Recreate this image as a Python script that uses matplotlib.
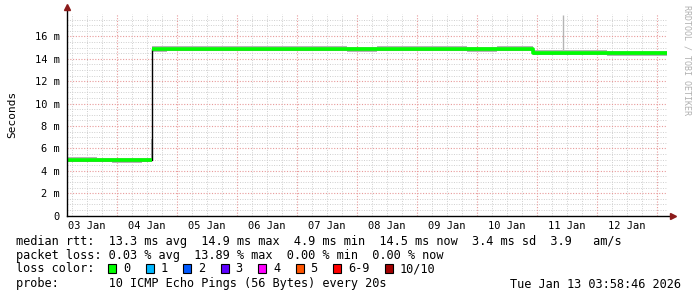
import matplotlib
matplotlib.use("Agg")
import matplotlib.pyplot as plt
from matplotlib.patches import Rectangle

# time in hours since 03 Jan 00:00, median rtt in ms
hours = [4, 10, 16, 22, 28, 34, 37.5, 38, 44, 56, 68, 80, 92, 104, 116, 128,
         140, 152, 164, 176, 186, 190.5, 196, 208, 220, 232, 244]
median_ms = [4.95, 4.97, 4.95, 4.93, 4.93, 4.95, 4.97, 14.85, 14.85, 14.85, 14.87, 14.85,
             14.85, 14.85, 14.83, 14.85, 14.85, 14.85, 14.83, 14.85, 14.85, 14.52,
             14.52, 14.5, 14.48, 14.48, 14.48]
smoke_lo = [4.75, 4.75, 4.75, 4.73, 4.73, 4.75, 4.78, 14.65, 14.66, 14.66, 14.66, 14.66,
            14.66, 14.66, 14.64, 14.66, 14.66, 14.66, 14.64, 14.66, 14.66, 14.32,
            14.32, 14.3, 14.28, 14.28, 14.28]
smoke_hi = [5.2, 5.2, 5.18, 5.16, 5.14, 5.16, 6.8, 15.1, 15.1, 15.1, 15.1, 15.1,
            15.1, 15.1, 15.08, 15.1, 15.1, 15.1, 15.08, 15.1, 15.1, 14.76,
            14.76, 14.74, 14.72, 14.72, 14.72]
spike_hour = 202.5
spike_ms = 17.9

day_labels = ["03 Jan", "04 Jan", "05 Jan", "06 Jan", "07 Jan",
              "08 Jan", "09 Jan", "10 Jan", "11 Jan", "12 Jan"]
ytick_vals = [0, 2, 4, 6, 8, 10, 12, 14, 16]

loss_labels = ["0", "1", "2", "3", "4", "5", "6-9", "10/10"]
loss_colors = ["#00ff00", "#00b8ff", "#0059ff", "#5e00ff", "#ff00fe",
               "#ff5500", "#ff0000", "#a10000"]

stats_lines = [
    "median rtt:  13.3 ms avg  14.9 ms max  4.9 ms min  14.5 ms now  3.4 ms sd  3.9   am/s",
    "packet loss: 0.03 % avg  13.89 % max  0.00 % min  0.00 % now",
]
probe_text = "probe:       10 ICMP Echo Pings (56 Bytes) every 20s"
date_text = "Tue Jan 13 03:58:46 2026"

W, H = 697, 297
fig = plt.figure(figsize=(W / 100, H / 100), dpi=100)
fig.patch.set_facecolor("white")
x0, x1, y0, y1 = 67, 667, 215.5, 14
ax = fig.add_axes([x0 / W, 1 - y0 / H, (x1 - x0) / W, (y0 - y1) / H])
ax.set_xlim(4, 244)
ax.set_ylim(0, 18)
for s in ax.spines.values():
    s.set_visible(False)

mono = "DejaVu Sans Mono"

# grid
minor = dict(color="#cfcfcf", lw=0.7, ls=(0, (1, 1.5)), zorder=0)
major = dict(color="#e89a9a", lw=0.8, ls=(0, (1, 1.5)), zorder=0)
for h in range(6, 244, 6):
    if h % 24:
        ax.axvline(h, **minor)
for v in [i * 0.5 for i in range(1, 37)]:
    if v % 2:
        ax.axhline(v, **minor)
for h in range(24, 244, 24):
    ax.axvline(h, **major)
for v in ytick_vals[1:]:
    ax.axhline(v, **major)

# smoke + median
ax.fill_between(hours, smoke_lo, smoke_hi, step="post", color="#b4b4b4", lw=0, zorder=1)
ax.vlines(spike_hour, 14.5, spike_ms, color="#b4b4b4", lw=1, zorder=1)
ax.plot(hours, median_ms, drawstyle="steps-post", color="black", lw=1, zorder=2)
split = hours.index(38)
ax.plot(hours[:split] + [hours[split]], median_ms[:split] + [median_ms[split - 1]],
        drawstyle="steps-post", color="#00ff00", lw=2.6, solid_capstyle="butt", zorder=3)
ax.plot(hours[split:], median_ms[split:],
        drawstyle="steps-post", color="#00ff00", lw=2.6, solid_capstyle="butt", zorder=3)

# axes lines with arrows
ax.plot([4, 246], [0, 0], color="black", lw=1, clip_on=False, zorder=4)
ax.plot([4, 4], [0, 18.4], color="black", lw=1, clip_on=False, zorder=4)
ax.plot(246.5, 0, marker=">", color="#8b1a1a", ms=4, clip_on=False, zorder=5)
ax.plot(4, 18.6, marker="^", color="#8b1a1a", ms=4, clip_on=False, zorder=5)

ax.set_xticks([12 + 24 * i for i in range(10)])
ax.set_xticklabels(day_labels, fontfamily=mono, fontsize=7.5)
ax.set_yticks(ytick_vals)
ax.set_yticklabels(["%d m" % v if v else "0" for v in ytick_vals],
                   fontfamily=mono, fontsize=7.5)
ax.tick_params(axis="x", length=0, pad=4)
ax.tick_params(axis="y", length=0, pad=5)
ax.set_ylabel("Seconds", fontfamily=mono, fontsize=8, labelpad=13)

# text below
fs = 8.55
fig.text(16 / W, 1 - 241 / H, stats_lines[0], fontfamily=mono, fontsize=fs, va="center")
fig.text(16 / W, 1 - 256 / H, stats_lines[1], fontfamily=mono, fontsize=fs, va="center")
fig.text(16 / W, 1 - 268.5 / H, "loss color:", fontfamily=mono, fontsize=fs, va="center")
x = 108
for lab, col in zip(loss_labels, loss_colors):
    fig.add_artist(Rectangle((x / W, 1 - 273 / H), 8 / W, 9 / H,
                             facecolor=col, edgecolor="black", lw=0.8,
                             transform=fig.transFigure))
    fig.text((x + 15) / W, 1 - 268.5 / H, lab, fontfamily=mono, fontsize=fs, va="center")
    x += 30.5 + 7 * len(lab)
fig.text(16 / W, 1 - 284 / H, probe_text, fontfamily=mono, fontsize=fs, va="center")
fig.text(681 / W, 1 - 284 / H, date_text, fontfamily=mono, fontsize=fs,
         va="center", ha="right")

fig.text(687 / W, 1 - 5 / H, "RRDTOOL / TOBI OETIKER", fontfamily=mono, fontsize=6,
         color="#b0b0b0", rotation=270, va="top", ha="center")

fig.savefig("out.png", dpi=100, facecolor="white")
